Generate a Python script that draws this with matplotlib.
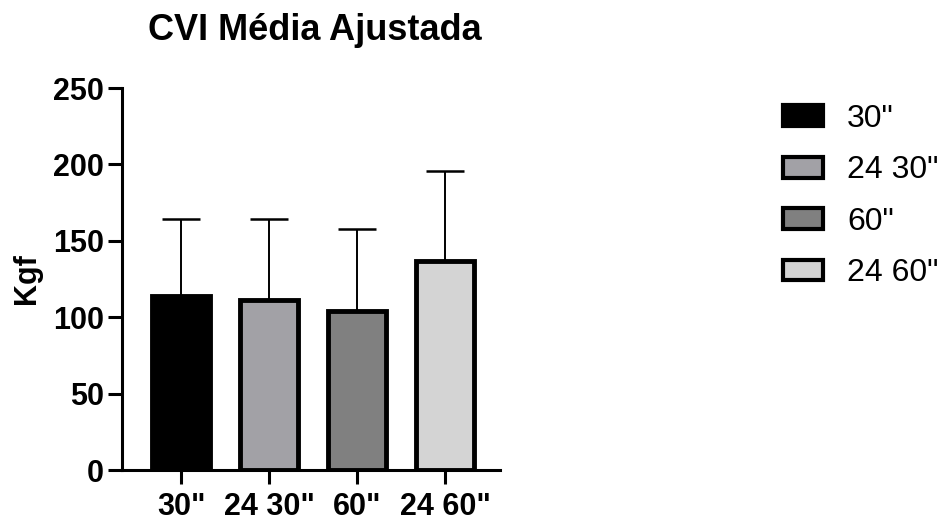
import matplotlib
matplotlib.use("Agg")
import matplotlib.pyplot as plt
from matplotlib.patches import Patch

plt.rcParams['font.family'] = ['Liberation Sans', 'DejaVu Sans']

categories = ['30"', '24 30"', '60"', '24 60"']
means = [114, 111, 104, 137]
sd = [50, 53, 54, 59]
fills = ['#000000', '#A2A1A6', '#808080', '#D4D4D4']
y_ticks = [0, 50, 100, 150, 200, 250]

fig = plt.figure(figsize=(9.39, 5.22), dpi=100)
ax = fig.add_axes([122 / 939, 52 / 522, (500 - 122) / 939, (470 - 88) / 522])

x = list(range(len(categories)))
ax.bar(x, means, width=0.66, color=fills, edgecolor='black', linewidth=3.5, zorder=2)
ax.errorbar(x, means, yerr=[[0] * len(sd), sd], fmt='none', ecolor='black',
            elinewidth=1.4, capsize=14, capthick=1.8, zorder=1)

ax.set_xlim(-0.67, 3.62)
ax.set_ylim(0, 250)
ax.set_yticks(y_ticks)
ax.set_xticks(x)
ax.set_xticklabels(categories)
for s in ['top', 'right']:
    ax.spines[s].set_visible(False)
for s in ['left', 'bottom']:
    ax.spines[s].set_linewidth(2.2)
ax.tick_params(axis='both', width=2.2, length=10, labelsize=22, pad=3)
ax.tick_params(axis='x', pad=6)
for lbl in ax.get_xticklabels() + ax.get_yticklabels():
    lbl.set_fontweight('bold')
ax.set_ylabel('Kgf', fontsize=22, fontweight='bold', labelpad=8)
fig.text(315 / 939, 1 - 30 / 522, 'CVI Média Ajustada', ha='center', va='center',
         fontsize=26, fontweight='bold')

handles = [Patch(facecolor=c, edgecolor='black', linewidth=3.0) for c in fills]
leg = fig.legend(handles, categories, loc='upper left', bbox_to_anchor=(783 / 939, 1 - 104 / 522),
                 frameon=False, fontsize=23, handlelength=1.25, handleheight=0.62,
                 labelspacing=0.67, handletextpad=0.75, borderaxespad=0, borderpad=0)

fig.savefig('out.png', dpi=100)
